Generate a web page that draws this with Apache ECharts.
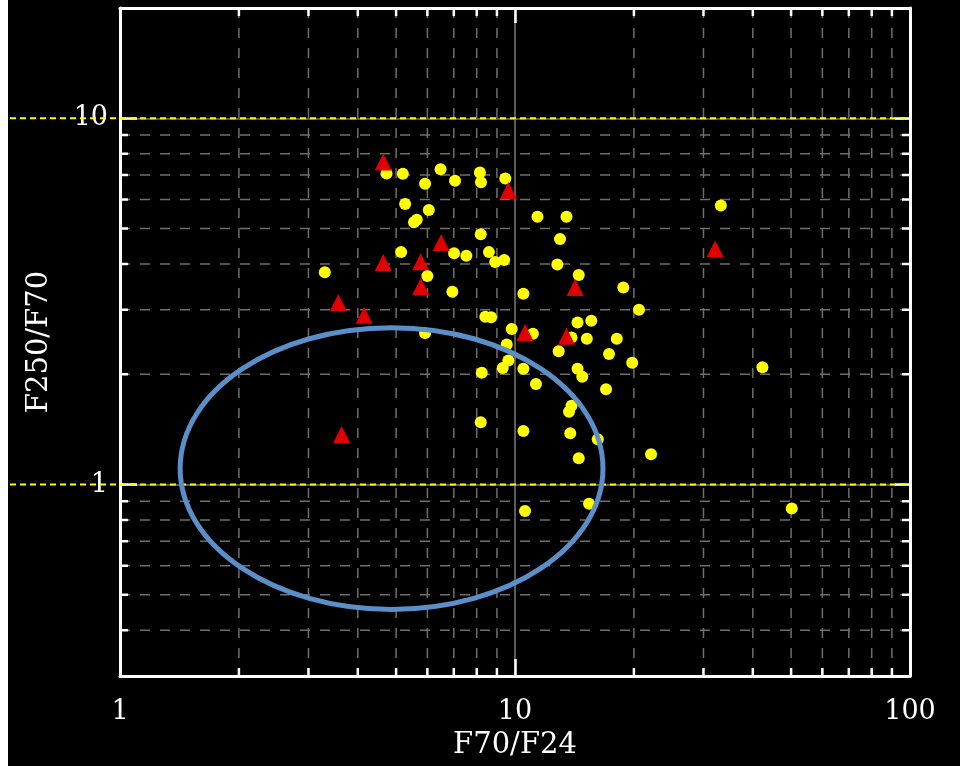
<!DOCTYPE html>
<html><head><meta charset="utf-8">
<script src="https://cdn.jsdelivr.net/npm/echarts@6/dist/echarts.min.js"></script>
<style>html,body{margin:0;padding:0;background:#000;}#c{width:960px;height:766px;}</style>
</head><body><div id="c"></div>
<script>
// ---- data ----
const xRange = [1, 100];
const yRange = [0.3, 20];
const xMajorTicks = [1, 10, 100];
const yMajorTicks = [1, 10];
const xMinorTicks = [2,3,4,5,6,7,8,9,20,30,40,50,60,70,80,90];
const yMinorTicks = [0.4,0.5,0.6,0.7,0.8,0.9,2,3,4,5,6,7,8,9];
const refLinesY = [1, 10];
const circleX = [3.30,4.73,5.20,5.92,6.48,7.05,8.15,8.20,9.45,5.27,6.05,5.64,5.55,8.19,11.4,13.5,13.0,5.15,7.01,7.53,8.59,8.91,9.39,12.8,6.00,14.5,6.94,10.5,18.8,20.6,33.2,8.41,8.70,9.81,11.1,14.4,15.6,15.2,18.1,13.9,12.9,17.3,9.53,9.62,9.31,8.24,10.5,11.3,14.4,14.8,17.0,13.9,13.7,8.19,10.5,13.8,16.2,14.5,22.1,19.8,42.3,10.6,15.4,50.2,5.92];
const circleY = [3.80,7.07,7.05,6.62,7.26,6.75,7.11,6.69,6.85,5.83,5.62,5.28,5.20,4.82,5.38,5.38,4.68,4.31,4.28,4.21,4.31,4.05,4.10,3.99,3.71,3.73,3.36,3.32,3.45,3.00,5.78,2.87,2.86,2.66,2.58,2.77,2.80,2.50,2.50,2.52,2.31,2.27,2.41,2.18,2.08,2.02,2.07,1.88,2.07,1.97,1.82,1.64,1.58,1.48,1.40,1.38,1.33,1.18,1.21,2.15,2.09,0.846,0.886,0.860,2.59];
const triangleX = [4.64,9.62,6.50,4.64,5.77,5.77,3.57,4.15,14.2,10.6,13.5,32.1,3.64];
const triangleY = [7.60,6.35,4.58,4.04,4.06,3.47,3.14,2.90,3.45,2.60,2.54,4.40,1.37];
const ellipseX = [1.42, 16.7];   // left / right extent
const ellipseY = [0.456, 2.68];  // bottom / top extent

// ---- chart ----
const FONT = 'DejaVu Serif';
const chart = echarts.init(document.getElementById('c'), null, {renderer: 'canvas'});
const fmt = v => { const l = Math.log10(v); return Math.abs(l - Math.round(l)) < 1e-6 ? String(Math.round(v)) : ''; };

const gridLine = {stroke: '#6e6e6e', lineWidth: 1.5, lineDash: [10, 10]};
const tickStyle = {stroke: '#ffffff', lineWidth: 2.5};
const MINOR = 8;

const option = {
  backgroundColor: '#000',
  animation: false,
  grid: {left: 120, right: 50, top: 8, bottom: 90, containLabel: false},
  xAxis: [{
    type: 'log', logBase: 10, min: xRange[0], max: xRange[1], position: 'bottom',
    axisLine: {show: true, lineStyle: {color: '#fff', width: 3}},
    axisTick: {show: true, inside: true, length: 17, lineStyle: {color: '#fff', width: 2.5}},
    axisLabel: {color: '#fff', fontFamily: FONT, fontSize: 27, margin: 22, formatter: fmt},
    splitLine: {show: true, lineStyle: {color: '#7a7a7a', width: 1.5}},
    name: 'F70/F24', nameLocation: 'middle', nameGap: 55,
    nameTextStyle: {color: '#fff', fontFamily: FONT, fontSize: 29}
  }, {
    type: 'log', logBase: 10, min: xRange[0], max: xRange[1], position: 'top',
    axisLine: {show: true, lineStyle: {color: '#fff', width: 3}},
    axisTick: {show: true, inside: true, length: 15, lineStyle: {color: '#fff', width: 2.5}},
    axisLabel: {show: false}, splitLine: {show: false}
  }],
  yAxis: [{
    type: 'log', logBase: 10, min: yRange[0], max: yRange[1], position: 'left',
    axisLine: {show: true, lineStyle: {color: '#fff', width: 3}},
    axisTick: {show: true, inside: true, length: 17, lineStyle: {color: '#fff', width: 2.5}},
    axisLabel: {color: '#fff', fontFamily: FONT, fontSize: 27, margin: 12, formatter: fmt},
    splitLine: {show: true, lineStyle: {color: '#7a7a7a', width: 1.5}},
    name: 'F250/F70', nameLocation: 'middle', nameGap: 66, nameRotate: 90,
    nameTextStyle: {color: '#fff', fontFamily: FONT, fontSize: 29}
  }, {
    type: 'log', logBase: 10, min: yRange[0], max: yRange[1], position: 'right',
    axisLine: {show: true, lineStyle: {color: '#fff', width: 3}},
    axisTick: {show: true, inside: true, length: 15, lineStyle: {color: '#fff', width: 2.5}},
    axisLabel: {show: false}, splitLine: {show: false}
  }],
  graphic: [{type: 'rect', left: 0, top: 0, shape: {x: 0, y: 0, width: 8, height: 766}, style: {fill: '#ffffff'}, z: 100}],
  series: [
    { // x minor grid + ticks
      type: 'custom', xAxisIndex: 0, yAxisIndex: 0, z: 1, silent: true,
      data: xMinorTicks.map(v => [v, 1]),
      renderItem: (p, api) => {
        const v = api.value(0);
        const t = api.coord([v, yRange[1]]), b = api.coord([v, yRange[0]]);
        return {type: 'group', children: [
          {type: 'line', shape: {x1: t[0], y1: t[1], x2: b[0], y2: b[1]}, style: gridLine},
          {type: 'line', shape: {x1: b[0], y1: b[1], x2: b[0], y2: b[1] - MINOR}, style: tickStyle},
          {type: 'line', shape: {x1: t[0], y1: t[1], x2: t[0], y2: t[1] + MINOR}, style: tickStyle}
        ]};
      }
    },
    { // y minor grid + ticks
      type: 'custom', xAxisIndex: 0, yAxisIndex: 0, z: 1, silent: true,
      data: yMinorTicks.map(v => [1, v]),
      renderItem: (p, api) => {
        const v = api.value(1);
        const l = api.coord([xRange[0], v]), r = api.coord([xRange[1], v]);
        return {type: 'group', children: [
          {type: 'line', shape: {x1: l[0], y1: l[1], x2: r[0], y2: r[1]}, style: gridLine},
          {type: 'line', shape: {x1: l[0], y1: l[1], x2: l[0] + MINOR, y2: l[1]}, style: tickStyle},
          {type: 'line', shape: {x1: r[0], y1: r[1], x2: r[0] - MINOR, y2: r[1]}, style: tickStyle}
        ]};
      }
    },
    { // yellow dashed reference lines extending to the left edge
      type: 'custom', xAxisIndex: 0, yAxisIndex: 0, z: 3, silent: true, clip: false,
      data: refLinesY.map(v => [1, v]),
      renderItem: (p, api) => {
        const v = api.value(1);
        const r = api.coord([xRange[1], v]);
        return {type: 'line', shape: {x1: 0, y1: r[1], x2: r[0], y2: r[1]},
          style: {stroke: '#ffff00', lineWidth: 2, lineDash: [6, 4], opacity: 1}};
      }
    },
    {
      type: 'scatter', name: 'circles', z: 4, symbol: 'circle', symbolSize: 12,
      itemStyle: {color: '#ffff00', opacity: 1},
      data: circleX.map((x, i) => [x, circleY[i]])
    },
    {
      type: 'scatter', name: 'triangles', z: 5, symbol: 'triangle', symbolSize: 17,
      itemStyle: {color: '#e00000', opacity: 1},
      data: triangleX.map((x, i) => [x, triangleY[i]])
    },
    { // ellipse outline
      type: 'custom', z: 6, silent: true, clip: false,
      data: [[ellipseX[0], ellipseY[0], ellipseX[1], ellipseY[1]]],
      encode: {x: [0, 2], y: [1, 3]},
      renderItem: (p, api) => {
        const a = api.coord([api.value(0), api.value(1)]);
        const b = api.coord([api.value(2), api.value(3)]);
        return {type: 'ellipse',
          shape: {cx: (a[0] + b[0]) / 2, cy: (a[1] + b[1]) / 2, rx: Math.abs(b[0] - a[0]) / 2, ry: Math.abs(b[1] - a[1]) / 2},
          style: {fill: 'none', stroke: '#5b8fc9', lineWidth: 5}};
      }
    }
  ]
};
chart.setOption(option);
</script></body></html>
